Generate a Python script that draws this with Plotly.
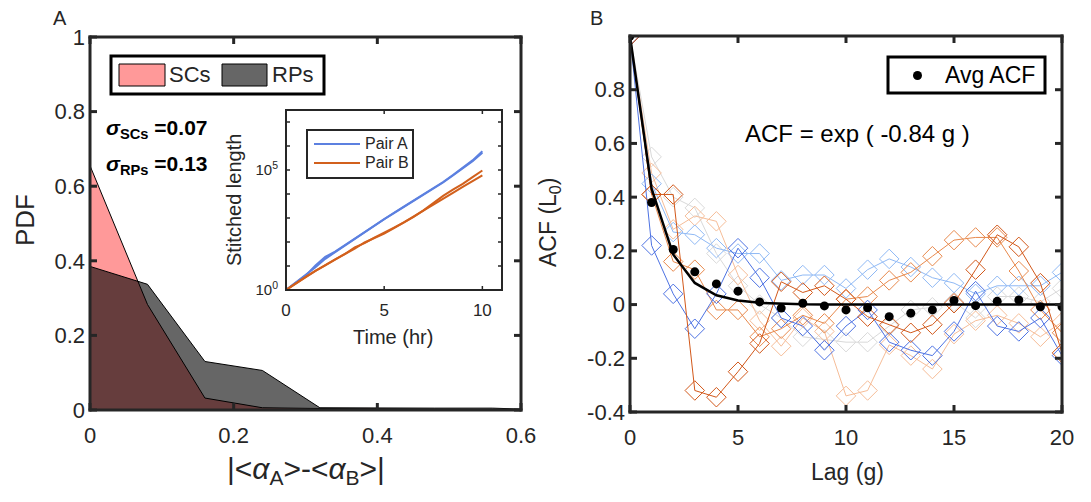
import plotly.graph_objects as go

W, H = 1091, 502
FONT = "Liberation Sans, Arial, sans-serif"
AX = "#262626"

# ---------------- Panel A: distribution of |<alpha_A> - <alpha_B>| ----------------
bin_x = [0, 0.08, 0.16, 0.24, 0.32, 0.40, 0.48, 0.56, 0.64]
pdf_scs = [0.655, 0.283, 0.032, 0.006, 0.004, 0.003, 0.003, 0.002, 0.0]
pdf_rps = [0.385, 0.337, 0.130, 0.106, 0.006, 0.005, 0.005, 0.005, 0.0]
sigma_scs = 0.07
sigma_rps = 0.13

# Inset: stitched length (log10) vs time for two pairs
time_hr = [0, 0.5, 1, 1.5, 2, 2.5, 3, 3.5, 4, 4.5, 5, 5.5, 6, 6.5, 7, 7.5, 8, 8.5, 9, 9.5, 10]
pair_a1_exp = [0, 0.32, 0.62, 0.95, 1.30, 1.58, 1.86, 2.14, 2.42, 2.68, 2.95, 3.20, 3.45, 3.70, 3.95, 4.20, 4.48, 4.77, 5.06, 5.37, 5.72]
pair_a2_exp = [0, 0.30, 0.60, 1.02, 1.38, 1.60, 1.87, 2.15, 2.43, 2.70, 2.96, 3.22, 3.47, 3.72, 3.97, 4.23, 4.50, 4.79, 5.09, 5.40, 5.78]
pair_b1_exp = [0, 0.28, 0.55, 0.80, 1.05, 1.28, 1.50, 1.72, 1.98, 2.15, 2.35, 2.58, 2.80, 3.05, 3.32, 3.62, 3.92, 4.18, 4.42, 4.70, 4.98]
pair_b2_exp = [0, 0.27, 0.54, 0.80, 1.03, 1.25, 1.50, 1.78, 1.95, 2.18, 2.38, 2.60, 2.82, 3.06, 3.30, 3.55, 3.80, 4.05, 4.30, 4.55, 4.78]

# ---------------- Panel B: autocorrelation vs generation lag ----------------
lags = list(range(21))
acf_gray = [1, 0.55, 0.40, 0.36, 0.19, 0.07, 0.0, -0.05, -0.12, -0.13, -0.14, -0.14, -0.08, -0.02, -0.01, 0.01, -0.05, 0.03, 0.03, 0.01, 0.06]
acf_peach = [1, 0.49, 0.28, 0.33, 0.31, 0.11, -0.06, -0.155, -0.05, -0.10, -0.34, -0.32, -0.15, -0.19, -0.24, -0.11, -0.06, -0.04, -0.07, -0.12, -0.065]
acf_light_blue = [1, 0.45, 0.27, 0.26, 0.21, 0.19, 0.19, 0.09, 0.11, 0.11, 0.06, 0.13, 0.17, 0.14, 0.10, 0.08, 0.04, 0.07, 0.07, 0.07, 0.12]
acf_mid_orange = [1, 0.41, 0.16, 0.13, -0.02, -0.02, -0.12, -0.09, -0.04, -0.07, 0.02, 0.03, 0.09, 0.12, 0.18, 0.24, 0.25, 0.25, 0.125, -0.02, -0.105]
acf_dark_blue = [1, 0.22, 0.04, -0.09, 0.04, 0.21, 0.10, -0.05, -0.08, -0.17, -0.08, -0.02, -0.14, -0.17, -0.19, -0.10, 0.05, -0.08, -0.10, -0.05, -0.19]
acf_dark_orange = [1, 0.41, 0.41, -0.32, -0.345, -0.25, -0.145, 0.085, 0.045, 0.07, 0.02, -0.045, -0.075, -0.105, -0.075, 0.005, 0.13, 0.26, 0.215, 0.08, -0.18]
avg_acf = [1.0, 0.38, 0.205, 0.122, 0.077, 0.05, 0.01, -0.013, 0.005, -0.005, -0.02, -0.012, -0.045, -0.032, -0.02, 0.015, -0.004, 0.012, 0.017, -0.008, -0.008]
fit_rate = 0.84

# Tick positions
a_xticks = [0, 0.2, 0.4, 0.6]
a_yticks = [0, 0.2, 0.4, 0.6, 0.8, 1]
b_xticks = [0, 5, 10, 15, 20]
b_yticks = [-0.4, -0.2, 0, 0.2, 0.4, 0.6, 0.8]
inset_xticks = [0, 5, 10]
inset_decades = [0, 1, 2, 3, 4, 5, 6, 7]

PINK = "#FF9999"
RP_FILL = "rgba(0,0,0,0.6)"
BLUE_INSET = "#5C80E0"
ORANGE_INSET = "#D2601C"


def fx(p):
    return p / W


def fy(p):
    return 1 - p / H


# Subplot boxes in pixels (left, top, right, bottom) and their axis ranges
BOX_A = (90, 37, 521, 410)
BOX_B = (630, 36, 1062, 412)
BOX_IN = (286, 110, 502, 290)
RANGE_A = ((0, 0.6), (0, 1))
RANGE_B = ((0, 20), (-0.4, 1))
RANGE_IN = ((0, 11), (0, 7.5))

fig = go.Figure()

# Panel A histograms (RPs drawn semi-transparent over SCs)
fig.add_trace(go.Scatter(x=bin_x, y=pdf_scs, mode="lines", fill="tozeroy",
                         fillcolor=PINK, line=dict(color="black", width=1),
                         xaxis="x", yaxis="y", showlegend=False))
fig.add_trace(go.Scatter(x=bin_x, y=pdf_rps, mode="lines", fill="tozeroy",
                         fillcolor=RP_FILL, line=dict(color="black", width=1),
                         xaxis="x", yaxis="y", showlegend=False))

# Inset lines
for exps, col in [(pair_a1_exp, BLUE_INSET), (pair_a2_exp, BLUE_INSET),
                  (pair_b1_exp, ORANGE_INSET), (pair_b2_exp, ORANGE_INSET)]:
    fig.add_trace(go.Scatter(x=time_hr, y=[10 ** e for e in exps], mode="lines",
                             line=dict(color=col, width=2),
                             xaxis="x3", yaxis="y3", showlegend=False))

# Panel B individual ACF curves
acf_series = [
    (acf_gray, "#D9D9D9"),
    (acf_peach, "#F6BD98"),
    (acf_light_blue, "#8FB9F5"),
    (acf_mid_orange, "#E8894C"),
    (acf_dark_blue, "#4D72E3"),
    (acf_dark_orange, "#D2581A"),
]
for vals, col in acf_series:
    fig.add_trace(go.Scatter(x=lags, y=vals, mode="lines+markers",
                             line=dict(color=col, width=1),
                             marker=dict(symbol="diamond-open", size=15, color=col,
                                         line=dict(width=1, color=col)),
                             xaxis="x2", yaxis="y2", showlegend=False))

# Exponential fit and average ACF
fit_vals = [2.718281828459045 ** (-fit_rate * g) for g in lags]
fig.add_trace(go.Scatter(x=lags, y=fit_vals, mode="lines",
                         line=dict(color="black", width=2.5),
                         xaxis="x2", yaxis="y2", showlegend=False))
fig.add_trace(go.Scatter(x=lags, y=avg_acf, mode="markers",
                         marker=dict(symbol="circle", size=9, color="black"),
                         xaxis="x2", yaxis="y2", showlegend=False))

axis_common = dict(showline=False, ticks="", showgrid=False, zeroline=False,
                   tickfont=dict(family=FONT, size=22, color=AX))


def xdom(box):
    return [fx(box[0]), fx(box[2])]


def ydom(box):
    return [fy(box[3]), fy(box[1])]


fig.update_layout(
    template="none",
    width=W, height=H,
    margin=dict(l=0, r=0, t=0, b=0),
    paper_bgcolor="white", plot_bgcolor="rgba(0,0,0,0)",
    xaxis=dict(domain=xdom(BOX_A), range=list(RANGE_A[0]), anchor="y",
               tickvals=a_xticks, ticktext=["0", "0.2", "0.4", "0.6"],
               ticklabelstandoff=10, **axis_common),
    yaxis=dict(domain=ydom(BOX_A), range=list(RANGE_A[1]), anchor="x",
               tickvals=a_yticks, ticktext=["0", "0.2", "0.4", "0.6", "0.8", "1"],
               ticklabelstandoff=4, **axis_common),
    xaxis2=dict(domain=xdom(BOX_B), range=list(RANGE_B[0]), anchor="y2",
                tickvals=b_xticks, ticklabelstandoff=10, **axis_common),
    yaxis2=dict(domain=ydom(BOX_B), range=list(RANGE_B[1]), anchor="x2",
                tickvals=b_yticks,
                ticktext=["-0.4", "-0.2", "0", "0.2", "0.4", "0.6", "0.8"],
                ticklabelstandoff=4, **axis_common),
    xaxis3=dict(domain=xdom(BOX_IN), range=list(RANGE_IN[0]), anchor="y3",
                showline=False, ticks="", showgrid=False, zeroline=False,
                tickvals=inset_xticks, ticklabelstandoff=8,
                tickfont=dict(family=FONT, size=17, color=AX)),
    yaxis3=dict(domain=ydom(BOX_IN), type="log", range=list(RANGE_IN[1]), anchor="x3",
                showline=False, ticks="", showgrid=False, zeroline=False,
                tickvals=[1, 1e5], ticktext=["10<sup>0</sup>", "10<sup>5</sup>"],
                ticklabelstandoff=7,
                tickfont=dict(family=FONT, size=15, color=AX)),
)

shapes = []
annotations = []


def bar(x0, y0, x1, y1, color):
    """Solid filled strip in pixel coordinates (used for frames and ticks)."""
    shapes.append(dict(type="rect", xref="paper", yref="paper",
                       x0=fx(min(x0, x1)), x1=fx(max(x0, x1)),
                       y0=fy(max(y0, y1)), y1=fy(min(y0, y1)),
                       fillcolor=color, line=dict(width=0), layer="above"))


def frame_and_ticks(box, ranges, xticks, yticks, lw, tw, tlen):
    """Closed box around a subplot with inward ticks on all four sides."""
    l, t, r, b = box
    (xa, xb), (ya, yb) = ranges
    h = lw / 2
    k = tw / 2
    for v in xticks:
        px = l + (v - xa) / (xb - xa) * (r - l)
        bar(px - k, b, px + k, b - tlen, AX)
        bar(px - k, t, px + k, t + tlen, AX)
    for v in yticks:
        py = b - (v - ya) / (yb - ya) * (b - t)
        bar(l, py - k, l + tlen, py + k, AX)
        bar(r - tlen, py - k, r, py + k, AX)
    bar(l - h, t - h, r + h, t + h, AX)
    bar(l - h, b - h, r + h, b + h, AX)
    bar(l - h, t - h, l + h, b + h, AX)
    bar(r - h, t - h, r + h, b + h, AX)


frame_and_ticks(BOX_A, RANGE_A, a_xticks, a_yticks, 3, 3, 7)
frame_and_ticks(BOX_B, RANGE_B, b_xticks, b_yticks, 3, 3, 7)
frame_and_ticks(BOX_IN, RANGE_IN, inset_xticks, inset_decades, 2, 1.5, 4)


def pline(x0, y0, x1, y1, color, width):
    shapes.append(dict(type="line", xref="paper", yref="paper",
                       x0=fx(x0), x1=fx(x1), y0=fy(y0), y1=fy(y1),
                       line=dict(color=color, width=width)))


def text(x, y, s, size, color="black", xanchor="center", yanchor="middle", angle=0):
    annotations.append(dict(x=fx(x), y=fy(y), xref="paper", yref="paper", text=s,
                            showarrow=False, xanchor=xanchor, yanchor=yanchor,
                            textangle=angle,
                            font=dict(family=FONT, size=size, color=color)))


def rect(x0, y0, x1, y1, fill, lw, lc="black"):
    shapes.append(dict(type="rect", xref="paper", yref="paper",
                       x0=fx(x0), x1=fx(x1), y0=fy(y1), y1=fy(y0),
                       fillcolor=fill, line=dict(color=lc, width=lw)))


# Panel letters
text(60, 18, "A", 20, AX)
text(596, 18, "B", 20, AX)

# Axis titles
text(25, 220, "PDF", 26, AX, angle=-90)
text(306, 470, "|&lt;<i>α</i><sub>A</sub>&gt;-&lt;<i>α</i><sub>B</sub>&gt;|", 30, AX)
text(549, 223, "ACF (L<sub>0</sub>)", 23, AX, angle=-90)
text(847, 472, "Lag (g)", 23, AX)
text(234, 200, "Stitched length", 20, AX, angle=-90)
text(393, 337, "Time (hr)", 20, AX)

# Panel A legend
rect(111, 56, 324, 94, "white", 3)
rect(119, 64, 165, 86, PINK, 1)
text(167, 75, "SCs", 22, AX, xanchor="left")
rect(222, 64, 267, 86, "#666666", 1)
text(270, 75, "RPs", 22, AX, xanchor="left")

# Sigma labels
text(104, 129, "<b><i>σ</i><sub>SCs</sub> =%.2f</b>" % sigma_scs, 21, "black", xanchor="left")
text(104, 165, "<b><i>σ</i><sub>RPs</sub> =%.2f</b>" % sigma_rps, 21, "black", xanchor="left")

# Inset legend
rect(307, 130, 413, 178, "white", 2, AX)
pline(314, 144, 360, 144, BLUE_INSET, 2)
pline(314, 163, 360, 163, ORANGE_INSET, 2)
text(363, 144, "Pair A", 16, AX, xanchor="left")
text(363, 163, "Pair B", 16, AX, xanchor="left")

# Panel B legend and fit label
rect(888, 57, 1045, 93, "white", 3)
shapes.append(dict(type="circle", xref="paper", yref="paper",
                   x0=fx(913), x1=fx(922), y0=fy(80), y1=fy(71),
                   fillcolor="black", line=dict(color="black", width=0)))
text(943, 75, "Avg ACF", 23, "black", xanchor="left")
text(857, 133, f"ACF = exp ( -{fit_rate:.2f} g )", 24, "black")

fig.update_layout(shapes=shapes, annotations=annotations)
fig.write_html("out.html")
